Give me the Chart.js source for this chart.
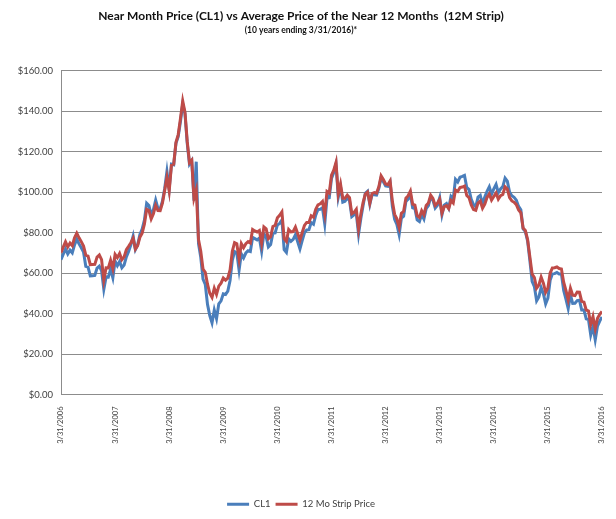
<!DOCTYPE html>
<html>
<head>
<meta charset="utf-8">
<script src="https://cdn.jsdelivr.net/npm/chart.js@4"></script>
<style>
  html, body { margin: 0; padding: 0; background: #fff; }
  #wrap { width: 616px; height: 519px; }
</style>
</head>
<body>
<div id="wrap"><canvas id="myChart"></canvas></div>
<script>
// x tick labels, one per year (3/31 each year)
let tickLabels = ['3/31/2006', '3/31/2007', '3/31/2008', '3/31/2009', '3/31/2010', '3/31/2011',
    '3/31/2012', '3/31/2013', '3/31/2014', '3/31/2015', '3/31/2016'];

// values taken twice a month (mid month and month end), 3/31/2006 .. 3/31/2016
let pointsPerYear = 24;

let cl1 = [
    66.6, 69.3, 71.9, 69.4, 71.3, 70.0, 73.9, 76.7, 74.4, 72.5, 70.3, 63.3, 62.9, 58.6, 58.7, 58.8, 62.4, 63.4, 61.1,
    52.0, 58.1, 58.0, 61.8, 57.6, 65.9, 63.6, 65.7, 62.6, 64.0, 68.0, 70.7, 74.0, 78.2, 71.6, 74.0, 79.1, 81.7, 86.1, 94.5, 93.4, 88.7, 91.3, 96.0,
    91.9, 91.8, 95.5, 101.8, 110.2, 101.6, 113.8, 113.5, 124.1, 127.4, 134.9, 143.5, 138.7, 124.1, 113.8, 115.5, 95.7, 115.0, 74.5, 67.8, 57.0, 54.4, 44.5, 39.0,
    35.4, 41.7, 37.5, 44.8, 46.3, 49.7, 49.4, 51.1, 56.3, 66.3, 70.6, 69.9, 61.5, 69.5, 67.5, 69.9, 71.0, 70.6, 77.6, 77.0, 76.4, 77.3, 70.7, 79.4,
    78.0, 72.9, 74.1, 79.7, 79.8, 83.8, 84.5, 86.2, 71.6, 70.2, 76.9, 75.6, 76.6, 78.9, 75.4, 71.9, 76.0, 79.9, 81.3, 81.4, 84.9, 84.1, 88.6, 91.4,
    91.5, 92.2, 84.3, 96.9, 97.2, 106.7, 109.7, 113.9, 97.4, 102.7, 95.0, 95.4, 97.2, 95.7, 87.9, 88.8, 89.4, 79.2, 86.8, 93.2, 99.4, 100.4, 93.9, 98.8,
    98.7, 98.5, 101.8, 107.1, 105.1, 103.0, 102.8, 104.9, 93.0, 86.5, 84.0, 79.0, 87.1, 88.1, 95.3, 96.5, 99.0, 92.2, 91.9, 86.2, 85.4, 88.9, 86.7, 91.8,
    93.3, 97.5, 95.9, 92.1, 93.5, 97.2, 88.7, 93.5, 94.3, 92.0, 97.9, 96.6, 106.3, 105.0, 107.3, 107.7, 108.2, 102.3, 101.2, 96.4, 93.8, 92.7, 97.5, 98.4,
    94.2, 97.5, 100.3, 102.6, 98.9, 101.6, 103.8, 99.7, 101.5, 102.7, 106.9, 105.4, 100.0, 98.2, 97.4, 96.0, 92.9, 91.2, 81.8, 80.5, 75.8, 66.2, 55.9, 53.3,
    46.3, 48.2, 52.8, 49.8, 44.8, 47.6, 56.4, 59.6, 59.7, 60.3, 59.5, 59.5, 51.4, 47.1, 42.5, 49.2, 45.0, 45.1, 46.4, 46.6, 41.7, 41.7, 37.4, 37.0,
    29.4, 33.6, 27.0, 33.8, 36.3, 38.3
];

let strip12 = [
    70.1, 72.8, 75.4, 72.9, 74.8, 73.5, 77.4, 79.7, 77.4, 75.5, 73.3, 68.8, 68.4, 64.1, 64.2, 64.3, 67.9, 68.9, 66.6,
    56.5, 62.6, 62.5, 66.3, 62.1, 69.2, 67.6, 69.7, 66.6, 68.0, 71.5, 73.2, 75.0, 77.2, 71.8, 73.5, 77.6, 79.7, 84.1, 91.5, 90.9, 86.7, 89.3, 93.5,
    90.9, 90.8, 94.5, 100.8, 107.2, 100.6, 113.3, 113.8, 124.6, 128.4, 136.4, 145.0, 139.5, 125.0, 114.6, 115.8, 97.0, 101.0, 76.5, 70.8, 62.0, 60.4, 54.5, 50.0,
    48.0, 52.5, 49.5, 53.5, 55.0, 57.5, 56.5, 57.5, 61.5, 70.8, 75.0, 74.5, 66.8, 74.5, 72.5, 74.5, 75.5, 74.8, 81.5, 80.8, 80.3, 81.0, 74.7, 82.8,
    81.8, 77.0, 78.0, 83.0, 83.5, 87.3, 88.5, 90.2, 77.0, 75.6, 81.5, 80.3, 80.5, 82.7, 79.5, 76.2, 80.0, 83.5, 85.0, 85.0, 88.3, 87.6, 91.5, 93.7,
    94.2, 95.4, 89.0, 100.3, 99.5, 108.4, 110.8, 114.6, 99.0, 104.0, 97.0, 97.0, 98.5, 97.2, 89.3, 90.0, 91.5, 81.8, 89.0, 94.8, 99.0, 100.0, 94.5, 99.3,
    99.8, 99.5, 102.6, 108.0, 106.2, 104.0, 103.6, 105.5, 95.4, 89.0, 86.8, 82.6, 89.5, 90.5, 97.0, 98.2, 100.5, 94.0, 93.6, 88.4, 87.5, 90.8, 88.8, 93.4,
    94.6, 98.4, 96.8, 93.4, 94.5, 96.5, 89.6, 92.8, 93.3, 91.8, 95.8, 94.6, 101.0, 100.3, 102.2, 102.5, 103.0, 98.3, 97.3, 93.6, 91.4, 91.0, 94.6, 95.6,
    92.0, 94.0, 97.3, 99.0, 96.0, 97.8, 99.5, 96.5, 98.2, 98.8, 102.6, 101.5, 97.2, 95.6, 95.0, 93.8, 91.2, 89.8, 82.2, 81.0, 76.6, 68.0, 59.5, 57.8,
    52.5, 54.0, 58.0, 55.0, 50.5, 52.6, 60.0, 62.5, 62.6, 63.0, 62.2, 62.0, 55.5, 51.4, 46.8, 52.5, 49.0, 48.8, 50.6, 50.5, 46.0, 45.6, 41.8, 41.2,
    34.6, 38.5, 32.5, 37.6, 39.6, 41.0
];

let seriesNames = ['CL1', '12 Mo Strip Price'];
let seriesColors = ['#4a7ebb', '#be4b48'];

function toPoints(values) {
    return values.map((v, i) => ({ x: i / pointsPerYear, y: v }));
}

let fontName = 'Lato, "Open Sans", sans-serif';
let textColor = '#404040';
let gridColor = '#8c8c8c';

var ctx = document.getElementById('myChart').getContext('2d');
var chart = new Chart(ctx, {
    type: 'line',
    data: {
        datasets: [{
            label: seriesNames[0],
            data: toPoints(cl1),
            borderColor: seriesColors[0],
            backgroundColor: seriesColors[0],
            borderWidth: 3,
            pointRadius: 0,
            tension: 0,
            order: 1
        }, {
            label: seriesNames[1],
            data: toPoints(strip12),
            borderColor: seriesColors[1],
            backgroundColor: seriesColors[1],
            borderWidth: 3,
            pointRadius: 0,
            tension: 0,
            order: 0
        }]
    },
    options: {
        responsive: true,
        maintainAspectRatio: false,
        animation: false,
        layout: { padding: { left: 0, right: 14, top: 0, bottom: 0 } },
        plugins: {
            title: {
                display: true,
                text: 'Near Month Price (CL1) vs Average Price of the Near 12 Months  (12M Strip)',
                color: '#111',
                font: { family: fontName, size: 12, weight: 'bold' },
                padding: { top: 9, bottom: 2 }
            },
            subtitle: {
                display: true,
                text: '(10 years ending 3/31/2016)*',
                color: '#111',
                font: { family: fontName, size: 8.5, weight: 'bold' },
                padding: { top: 0, bottom: 35 }
            },
            legend: {
                position: 'bottom',
                labels: {
                    usePointStyle: true,
                    pointStyle: 'line',
                    pointStyleWidth: 22,
                    color: textColor,
                    font: { family: fontName, size: 9.5 },
                    padding: 5,
                    sort: (a, b) => a.datasetIndex - b.datasetIndex
                }
            },
            tooltip: { enabled: false }
        },
        scales: {
            x: {
                type: 'linear',
                min: 0,
                max: tickLabels.length - 1,
                grid: { display: false },
                border: { display: true, color: gridColor, width: 1 },
                ticks: {
                    stepSize: 1,
                    autoSkip: false,
                    maxRotation: 90,
                    minRotation: 90,
                    padding: 4,
                    color: textColor,
                    font: { family: fontName, size: 7.5 },
                    callback: (value) => tickLabels[value]
                },
                afterFit: (scale) => { scale.height = 100; }
            },
            y: {
                min: 0,
                max: 160,
                grid: { color: gridColor, lineWidth: 1, drawTicks: false },
                border: { display: true, color: gridColor, width: 1 },
                ticks: {
                    stepSize: 20,
                    padding: 8,
                    color: textColor,
                    font: { family: fontName, size: 9.5 },
                    callback: (value) => '$' + value.toFixed(2)
                },
                afterFit: (scale) => { scale.width = 61; }
            }
        }
    }
});
</script>
</body>
</html>
